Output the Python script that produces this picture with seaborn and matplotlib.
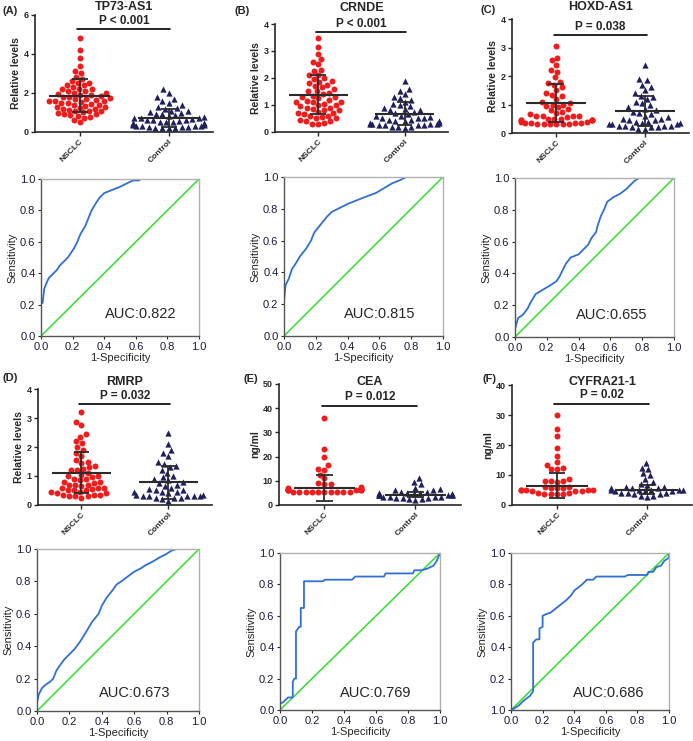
import warnings
import numpy as np
import pandas as pd
import seaborn as sns
import matplotlib.pyplot as plt

warnings.filterwarnings('ignore')

sns.set_style('ticks')
plt.rcParams['font.family'] = ['Liberation Sans', 'DejaVu Sans']

# ---- labels ----
titles = ['TP73-AS1', 'CRNDE', 'HOXD-AS1', 'RMRP', 'CEA', 'CYFRA21-1']
tags = ['(A)', '(B)', '(C)', '(D)', '(E)', '(F)']
p_texts = ['P < 0.001', 'P < 0.001', 'P = 0.038', 'P = 0.032', 'P = 0.012', 'P = 0.02']
auc_texts = ['AUC:0.822', 'AUC:0.815', 'AUC:0.655', 'AUC:0.673', 'AUC:0.769', 'AUC:0.686']
y_labels = ['Relative levels'] * 4 + ['ng/ml'] * 2
groups = ['NSCLC', 'Control']
y_max = [6, 4, 4, 4, 50, 40]
y_step = [2, 1, 1, 1, 10, 10]

# ---- dot plot values ----
nsclc_a = [4.8, 4.2, 3.8, 3.4, 3.1, 3.0, 2.8, 2.7, 2.6, 2.5, 2.5, 2.4, 2.4, 2.3, 2.2, 2.2, 2.2,
           2.1, 2.1, 2.0, 2.0, 1.95, 1.9, 1.9, 1.85, 1.8, 1.8, 1.75, 1.7, 1.7, 1.65, 1.6, 1.6,
           1.6, 1.55, 1.5, 1.5, 1.45, 1.4, 1.4, 1.35, 1.3, 1.3, 1.25, 1.2, 1.2, 1.15, 1.1, 1.1,
           1.05, 1.0, 0.95, 0.9, 0.9, 0.85, 0.8, 0.75, 0.7, 0.6, 0.5]
ctrl_a = [2.2, 2.0, 1.8, 1.7, 1.6, 1.5, 1.4, 1.3, 1.25, 1.2, 1.1, 1.05, 1.0, 0.95, 0.9, 0.9,
          0.85, 0.8, 0.75, 0.7, 0.7, 0.7, 0.65, 0.6, 0.6, 0.6, 0.55, 0.5, 0.5, 0.5, 0.45, 0.45,
          0.4, 0.4, 0.4, 0.35, 0.35, 0.3, 0.3, 0.3, 0.3, 0.25, 0.25, 0.25, 0.2, 0.2, 0.2, 0.2]
nsclc_b = [3.5, 3.15, 2.9, 2.7, 2.6, 2.5, 2.3, 2.25, 2.1, 2.1, 2.0, 1.95, 1.9, 1.85, 1.8, 1.75,
           1.7, 1.65, 1.6, 1.5, 1.5, 1.45, 1.4, 1.35, 1.3, 1.3, 1.25, 1.2, 1.15, 1.1, 1.1, 1.1,
           1.05, 1.0, 1.0, 0.95, 0.9, 0.9, 0.85, 0.8, 0.8, 0.75, 0.7, 0.7, 0.65, 0.6, 0.6, 0.55,
           0.5, 0.5, 0.45, 0.4, 0.4, 0.35, 0.3, 0.3]
ctrl_b = [1.9, 1.6, 1.5, 1.4, 1.3, 1.25, 1.2, 1.1, 1.05, 1.0, 0.95, 0.9, 0.85, 0.8, 0.8, 0.75,
          0.7, 0.65, 0.6, 0.6, 0.55, 0.5, 0.5, 0.5, 0.45, 0.45, 0.4, 0.4, 0.4, 0.35, 0.35, 0.3,
          0.3, 0.3, 0.3, 0.25, 0.25, 0.25, 0.25, 0.2, 0.2, 0.2, 0.15]
nsclc_c = [3.05, 2.65, 2.55, 2.4, 2.2, 2.15, 1.95, 1.8, 1.75, 1.7, 1.6, 1.5, 1.4, 1.35, 1.3,
           1.2, 1.1, 1.05, 1.0, 1.0, 0.95, 0.9, 0.85, 0.8, 0.75, 0.7, 0.65, 0.6, 0.6, 0.6, 0.6,
           0.55, 0.5, 0.5, 0.5, 0.45, 0.45, 0.45, 0.45, 0.45, 0.4, 0.4, 0.35, 0.35, 0.35, 0.35,
           0.3, 0.3, 0.3, 0.3, 0.3, 0.3]
ctrl_c = [2.4, 1.9, 1.85, 1.7, 1.6, 1.5, 1.4, 1.3, 1.25, 1.2, 1.1, 1.05, 1.0, 0.9, 0.85, 0.8,
          0.75, 0.7, 0.65, 0.6, 0.55, 0.5, 0.5, 0.45, 0.45, 0.4, 0.4, 0.35, 0.35, 0.3, 0.3, 0.3,
          0.25, 0.25, 0.25, 0.25, 0.2, 0.2, 0.2, 0.15, 0.15]
nsclc_d = [3.2, 2.85, 2.75, 2.45, 2.35, 2.2, 2.15, 2.0, 1.9, 1.8, 1.7, 1.55, 1.5, 1.45, 1.35,
           1.3, 1.25, 1.2, 1.2, 1.1, 1.05, 1.0, 1.0, 0.95, 0.9, 0.9, 0.85, 0.8, 0.8, 0.75, 0.7,
           0.7, 0.7, 0.65, 0.6, 0.6, 0.6, 0.55, 0.5, 0.5, 0.5, 0.45, 0.45, 0.4, 0.4, 0.35, 0.35,
           0.35, 0.3, 0.3, 0.3, 0.25]
ctrl_d = [2.5, 2.1, 1.9, 1.8, 1.7, 1.5, 1.4, 1.35, 1.3, 1.2, 1.1, 1.0, 0.95, 0.9, 0.85, 0.8,
          0.75, 0.7, 0.65, 0.6, 0.55, 0.5, 0.5, 0.45, 0.45, 0.45, 0.4, 0.35, 0.35, 0.3, 0.3,
          0.3, 0.3, 0.3, 0.25, 0.25, 0.25, 0.2, 0.15]
nsclc_e = [36, 23, 20, 16.5, 15, 14.5, 12.5, 11, 9, 8.5, 8.5, 7.5, 7, 6.5, 6.5, 6.5, 6, 6, 6, 6,
           6, 6, 5.5, 5.5, 5.5, 5.5, 5.5, 5.5, 5.5, 5.5, 5.5, 5.5]
ctrl_e = [11, 9.5, 8.5, 7, 6.5, 6, 6, 5.5, 5.5, 5, 5, 5, 4.5, 4.5, 4.5, 4.5, 4, 4, 4, 4, 4, 4,
          3.5, 3.5, 3.5, 3.5, 3, 3, 3, 2.5, 2.5, 2]
nsclc_f = [30, 25.3, 23, 19, 16.5, 14.5, 13.5, 12.5, 12, 12, 8.5, 8, 8, 8, 7.5, 6, 6, 5.5, 5.5,
           5.5, 5, 5, 5, 5, 5, 4.5, 4.5, 4.5, 4, 4, 3.5, 3.5, 3.5, 3.5]
ctrl_f = [14, 12.5, 12, 10.5, 10, 8.5, 7.5, 7, 6.5, 6, 6, 5.5, 5.5, 5.5, 5, 5, 5, 5, 5, 4.5,
          4.5, 4.5, 4, 4, 4, 3.5, 3.5, 3, 3, 2.5]

nsclc_all = [nsclc_a, nsclc_b, nsclc_c, nsclc_d, nsclc_e, nsclc_f]
ctrl_all = [ctrl_a, ctrl_b, ctrl_c, ctrl_d, ctrl_e, ctrl_f]

# mean and SD bars: (mean, low, high)
nsclc_mean_sd = [(1.85, 1.0, 2.7), (1.38, 0.65, 2.12), (1.05, 0.37, 1.72),
                 (1.12, 0.4, 1.82), (7.0, 1.5, 12.3), (6.3, 2.2, 10.5)]
ctrl_mean_sd = [(0.72, 0.25, 1.2), (0.68, 0.25, 1.12), (0.77, 0.25, 1.3),
                (0.8, 0.22, 1.36), (4.3, 3.3, 5.3), (5.0, 3.5, 6.8)]

# ---- ROC curves ----
fpr_a = [0, 0, 0.01, 0.02, 0.04, 0.05, 0.08, 0.10, 0.12, 0.15, 0.17, 0.19, 0.21, 0.23, 0.25,
         0.28, 0.30, 0.32, 0.35, 0.37, 0.40, 0.45, 0.50, 0.54, 0.58, 0.62, 0.63, 1.0]
tpr_a = [0, 0.21, 0.21, 0.30, 0.35, 0.37, 0.40, 0.42, 0.45, 0.48, 0.50, 0.53, 0.56, 0.60, 0.65,
         0.70, 0.75, 0.80, 0.85, 0.88, 0.91, 0.93, 0.95, 0.97, 0.99, 0.99, 1.0, 1.0]
fpr_b = [0, 0, 0.01, 0.03, 0.05, 0.07, 0.10, 0.14, 0.17, 0.19, 0.23, 0.27, 0.30, 0.34, 0.40,
         0.45, 0.50, 0.58, 0.63, 0.68, 0.73, 0.77, 1.0]
tpr_b = [0, 0.22, 0.32, 0.36, 0.42, 0.45, 0.50, 0.55, 0.60, 0.65, 0.70, 0.75, 0.78, 0.80, 0.83,
         0.85, 0.87, 0.90, 0.93, 0.96, 0.98, 1.0, 1.0]
fpr_c = [0, 0, 0.02, 0.05, 0.08, 0.10, 0.13, 0.18, 0.23, 0.26, 0.28, 0.30, 0.32, 0.35, 0.40,
         0.43, 0.46, 0.48, 0.51, 0.52, 0.53, 0.54, 0.56, 0.58, 0.62, 0.66, 0.70, 0.73, 0.75,
         0.78, 1.0]
tpr_c = [0, 0.05, 0.12, 0.14, 0.18, 0.22, 0.27, 0.30, 0.33, 0.35, 0.38, 0.42, 0.46, 0.50, 0.52,
         0.55, 0.58, 0.62, 0.66, 0.70, 0.73, 0.76, 0.80, 0.85, 0.88, 0.90, 0.93, 0.96, 0.98,
         1.0, 1.0]
fpr_d = [0, 0, 0.01, 0.03, 0.05, 0.08, 0.10, 0.12, 0.14, 0.17, 0.20, 0.23, 0.26, 0.28, 0.31,
         0.34, 0.38, 0.40, 0.43, 0.47, 0.49, 0.52, 0.56, 0.60, 0.64, 0.67, 0.71, 0.76, 0.80,
         0.83, 0.86, 1.0]
tpr_d = [0, 0.05, 0.10, 0.14, 0.16, 0.18, 0.20, 0.25, 0.28, 0.32, 0.35, 0.38, 0.42, 0.45, 0.50,
         0.55, 0.60, 0.65, 0.70, 0.75, 0.78, 0.80, 0.83, 0.86, 0.88, 0.90, 0.92, 0.95, 0.97,
         0.99, 1.0, 1.0]
fpr_e = [0, 0, 0.02, 0.04, 0.05, 0.08, 0.08, 0.09, 0.10, 0.10, 0.12, 0.13, 0.13, 0.15, 0.15,
         0.27, 0.28, 0.45, 0.47, 0.65, 0.66, 0.83, 0.84, 0.88, 0.92, 0.96, 0.98, 1.0]
tpr_e = [0, 0.04, 0.05, 0.07, 0.08, 0.08, 0.18, 0.20, 0.20, 0.50, 0.53, 0.53, 0.65, 0.65, 0.82,
         0.82, 0.83, 0.83, 0.85, 0.85, 0.87, 0.87, 0.89, 0.89, 0.90, 0.92, 0.95, 1.0]
fpr_f = [0, 0.02, 0.05, 0.08, 0.12, 0.14, 0.14, 0.16, 0.18, 0.18, 0.20, 0.20, 0.22, 0.25, 0.30,
         0.35, 0.38, 0.40, 0.45, 0.48, 0.52, 0.54, 0.72, 0.74, 0.86, 0.87, 0.90, 0.92, 0.95,
         0.97, 1.0, 1.0]
tpr_f = [0, 0.01, 0.03, 0.06, 0.09, 0.12, 0.43, 0.45, 0.45, 0.52, 0.53, 0.60, 0.61, 0.62, 0.66,
         0.70, 0.73, 0.76, 0.80, 0.83, 0.83, 0.85, 0.85, 0.86, 0.86, 0.88, 0.88, 0.91, 0.92,
         0.95, 0.97, 1.0]
fpr_all = [fpr_a, fpr_b, fpr_c, fpr_d, fpr_e, fpr_f]
tpr_all = [tpr_a, tpr_b, tpr_c, tpr_d, tpr_e, tpr_f]
roc_ticks = [0.0, 0.2, 0.4, 0.6, 0.8, 1.0]

# ---- layout (figure fractions) ----
dot_pos = [(0.0505, 0.8219, 0.257, 0.158), (0.3968, 0.8219, 0.2496, 0.1457),
           (0.7388, 0.8205, 0.2554, 0.1538), (0.0548, 0.3185, 0.2511, 0.1565),
           (0.4026, 0.3185, 0.2626, 0.1633), (0.7388, 0.3185, 0.2597, 0.1619)]
roc_pos = [(0.0592, 0.5466, 0.228, 0.2119), (0.4098, 0.5466, 0.2294, 0.2146),
           (0.7431, 0.5452, 0.2294, 0.2146), (0.0534, 0.0405, 0.2338, 0.2186),
           (0.404, 0.0418, 0.2309, 0.2119), (0.7374, 0.0418, 0.228, 0.2119)]
tag_xy = [(0.004, 0.992), (0.339, 0.992), (0.694, 0.993),
          (0.004, 0.496), (0.352, 0.495), (0.696, 0.495)]
title_y = [1.07, 1.15, 1.105, 1.06, 1.017, 1.025]
pline_y = [0.88, 0.925, 0.86, 0.87, 0.82, 0.843]
auc_xy = [(0.63, 0.14), (0.60, 0.14), (0.61, 0.137), (0.60, 0.11), (0.60, 0.11), (0.616, 0.11)]

red = '#ee1c1c'
navy = '#1f1f5e'
bar_col = '#2b2b2b'
roc_blue = '#2f6fd6'
diag_green = '#2ee02e'
tick_col = '#1a1a3a'

fig = plt.figure(figsize=(6.93, 7.41), dpi=100)

for i in range(6):
    # dot plot
    ax = fig.add_axes(dot_pos[i])
    df = pd.DataFrame({'group': ['NSCLC'] * len(nsclc_all[i]) + ['Control'] * len(ctrl_all[i]),
                       'value': nsclc_all[i] + ctrl_all[i]})
    sns.swarmplot(data=df[df['group'] == 'NSCLC'], x='group', y='value', order=groups,
                  color=red, marker='o', size=4.3, ax=ax, zorder=2)
    sns.swarmplot(data=df[df['group'] == 'Control'], x='group', y='value', order=groups,
                  color=navy, marker='^', size=4.5, ax=ax, zorder=2)
    for k, (m, lo, hi) in enumerate([nsclc_mean_sd[i], ctrl_mean_sd[i]]):
        ax.hlines(m, k - 0.34, k + 0.34, color=bar_col, lw=1.5, zorder=5)
        ax.vlines(k, lo, hi, color=bar_col, lw=1.3, zorder=5)
        ax.hlines([lo, hi], k - 0.09, k + 0.09, color=bar_col, lw=1.3, zorder=5)
    ax.set_xlim(-0.5, 1.5)
    ax.set_ylim(0, y_max[i])
    ax.set_yticks(np.arange(0, y_max[i] + 0.001, y_step[i]))
    ax.set_yticklabels([str(int(v)) for v in np.arange(0, y_max[i] + 0.001, y_step[i])],
                       fontsize=6.5, fontweight='bold')
    ax.set_xticks([0, 1])
    ax.set_xticklabels(groups, rotation=45, ha='right', rotation_mode='anchor',
                       fontsize=6, fontweight='bold')
    ax.set_xlabel('')
    ax.set_ylabel(y_labels[i], fontsize=7.5, fontweight='bold', labelpad=2)
    ax.tick_params(length=3, width=1, pad=1.5)
    for s in ['left', 'bottom']:
        ax.spines[s].set_linewidth(1.2)
    sns.despine(ax=ax)
    # significance bar
    ax.plot([-0.03, 1.02], [pline_y[i], pline_y[i]], transform=ax.get_xaxis_transform(),
            color='black', lw=1.2, clip_on=False)
    ax.text(0.5, pline_y[i] + 0.02, p_texts[i], transform=ax.transAxes, ha='center',
            va='bottom', fontsize=8.5, fontweight='bold')
    ax.text(0.5, title_y[i], titles[i], transform=ax.transAxes, ha='center', va='center',
            fontsize=9, fontweight='bold')
    fig.text(tag_xy[i][0], tag_xy[i][1], tags[i], ha='left', va='top', fontsize=8,
             fontweight='bold')

    # ROC curve
    rx = fig.add_axes(roc_pos[i])
    sns.lineplot(x=[0, 1], y=[0, 1], color=diag_green, lw=1.1, ax=rx)
    sns.lineplot(x=fpr_all[i], y=tpr_all[i], sort=False, estimator=None, color=roc_blue,
                 lw=1.3, ax=rx)
    rx.set_xlim(0, 1)
    rx.set_ylim(0, 1)
    rx.set_xticks(roc_ticks)
    rx.set_yticks(roc_ticks)
    rx.set_xticklabels(['%.1f' % v for v in roc_ticks], fontsize=8, color=tick_col)
    ylab = ['%.1f' % v for v in roc_ticks]
    if i == 5:
        ylab[0] = '1.0'
    rx.set_yticklabels(ylab, fontsize=8, color=tick_col)
    rx.tick_params(length=2.5, width=0.8, pad=1.5)
    rx.set_xlabel('1-Specificity', fontsize=8, labelpad=1)
    rx.set_ylabel('Sensitivity', fontsize=8, labelpad=2)
    for s in ['left', 'bottom']:
        rx.spines[s].set_color('#555555')
        rx.spines[s].set_linewidth(1.0)
    for s in ['top', 'right']:
        rx.spines[s].set_color('#b0b0b0')
        rx.spines[s].set_linewidth(1.0)
    rx.text(auc_xy[i][0], auc_xy[i][1], auc_texts[i], transform=rx.transAxes,
            ha='center', va='center', fontsize=10.5)

fig.savefig('out.png', dpi=100)
